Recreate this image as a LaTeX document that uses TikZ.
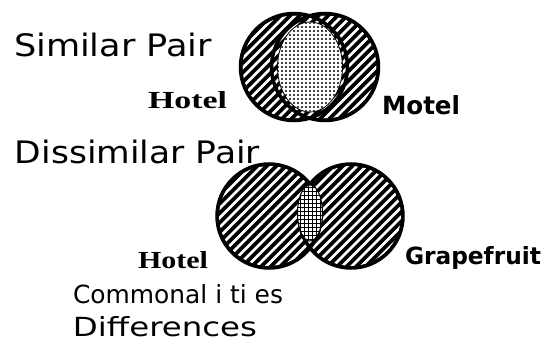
\documentclass[tikz,border=0pt]{standalone}
\usepackage{fontspec}
\usepackage{graphicx}
\setmainfont{DejaVu Sans}
\newfontfamily\hotelfont{Liberation Serif}
\newfontfamily\pixfont{DejaVu Sans}
\newcommand{\fitbox}[3]{\resizebox{#1pt}{#2pt}{#3}}
\tikzset{
  lbl/.style={anchor=base west, inner sep=0pt, outer sep=0pt},
  ring/.style={draw=black, line width=3.5pt},
  stripe/.style={draw=white, line width=2.8pt},
  disc/.style={fill=black},
}
\begin{document}
\begin{tikzpicture}[x=1pt,y=-1pt]
\useasboundingbox[fill=white] (0,0) rectangle (558,361);

% ---------- Similar pair ----------
\coordinate (sa) at (294,67);
\coordinate (sb) at (325,67);
\coordinate (sc) at (310,67);
\fill[disc] (sa) circle[radius=53.5pt] (sb) circle[radius=53.5pt];
\begin{scope}
  \clip (sa) circle[radius=51.5pt] (sb) circle[radius=51.5pt];
  \foreach \k in {-20,...,20}
    \draw[stripe] ([xshift=\k*9.5pt-80pt,yshift=-80pt]sc) -- ++(160,-160);
\end{scope}
\draw[ring] (sa) circle[radius=53.5pt];
\draw[ring] (sb) circle[radius=53.5pt];
\fill[white] (sc) ellipse[x radius=32.5pt, y radius=45pt];
\begin{scope}
  \clip (sc) ellipse[x radius=32pt, y radius=44.5pt];
  \foreach \i in {-9,...,9}
    \foreach \j in {-12,...,12}
      \fill ([xshift=\i*4pt,yshift=\j*4pt]sc) circle[radius=1.1pt];
\end{scope}
\draw[line width=0.8pt] (sc) ellipse[x radius=32.5pt, y radius=45pt];

% ---------- Dissimilar pair ----------
\coordinate (da) at (269,216);
\coordinate (db) at (351,216);
\coordinate (dc) at (310,213);
\fill[disc] (da) circle[radius=52pt] (db) circle[radius=52pt];
\begin{scope}
  \clip (da) circle[radius=50pt] (db) circle[radius=50pt];
  \foreach \k in {-24,...,24}
    \draw[stripe] ([xshift=\k*9.5pt-80pt,yshift=-80pt]dc) -- ++(160,-160);
\end{scope}
\draw[ring] (da) circle[radius=52pt];
\draw[ring] (db) circle[radius=52pt];
\fill[white] (dc) ellipse[x radius=12.5pt, y radius=28pt];
\begin{scope}
  \clip (dc) ellipse[x radius=12.5pt, y radius=28pt];
  \foreach \i in {-4,...,4}
    \draw[line width=0.9pt] ([xshift=\i*4pt+2pt,yshift=30pt]dc) -- ++(0,60);
  \foreach \j in {-8,...,8}
    \draw[line width=0.9pt] ([xshift=-14pt,yshift=\j*4pt+2pt]dc) -- ++(28,0);
\end{scope}
\draw[line width=1pt] (dc) ellipse[x radius=12.5pt, y radius=28pt];

% ---------- Labels ----------
\node[lbl] (t1) at (14,57) {\fitbox{198}{23.5}{Similar Pair}};
\node[lbl] (t2) at (15,164) {\fitbox{245}{23.5}{Dissimilar Pair}};
\node[lbl] (h1) at (148,109) {\fitbox{79}{17}{\hotelfont\bfseries Hotel}};
\node[lbl] (m1) at (382,115) {\fitbox{78}{19}{\pixfont\bfseries Motel}};
\node[lbl] (h2) at (138,268) {\fitbox{70}{17}{\hotelfont\bfseries Hotel}};
\node[lbl] (g2) at (405,265) {\fitbox{136}{18}{\pixfont\bfseries Grapefruit}};
\node[lbl] (c1) at (73,303) {\fitbox{210}{19}{Commonal i ti es}};
\node[lbl] (d1) at (73,336) {\fitbox{184}{20}{Differences}};
\end{tikzpicture}
\end{document}
